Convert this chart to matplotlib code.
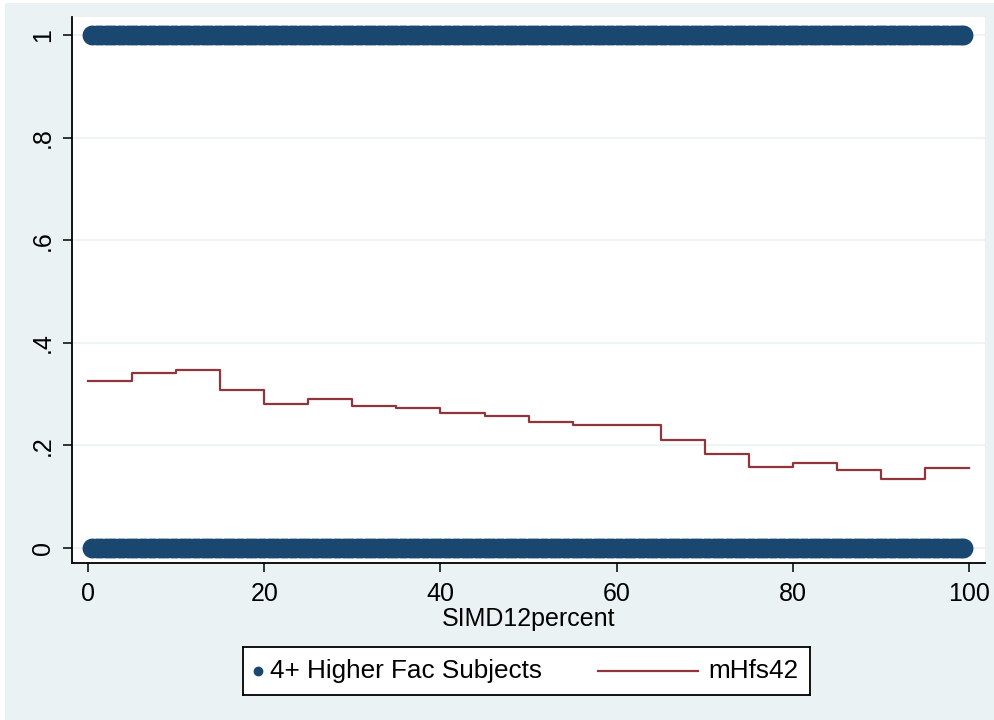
import numpy as np
import matplotlib.pyplot as plt
from matplotlib.patches import Rectangle

plt.rcParams["font.family"] = ["Liberation Sans", "DejaVu Sans"]

# SIMD percentile positions of the observations (binary outcome)
simd_obs = [
    0.5, 1.0, 1.5, 2.0, 2.5, 3.0, 3.5, 4.0, 4.5, 5.0,
    5.5, 6.0, 6.5, 7.0, 7.5, 8.0, 8.5, 9.0, 9.5, 10.0,
    10.5, 11.0, 11.5, 12.0, 12.5, 13.0, 13.5, 14.0, 14.5, 15.0,
    15.5, 16.0, 16.5, 17.0, 17.5, 18.0, 18.5, 19.0, 19.5, 20.0,
    20.5, 21.0, 21.5, 22.0, 22.5, 23.0, 23.5, 24.0, 24.5, 25.0,
    25.5, 26.0, 26.5, 27.0, 27.5, 28.0, 28.5, 29.0, 29.5, 30.0,
    30.5, 31.0, 31.5, 32.0, 32.5, 33.0, 33.5, 34.0, 34.5, 35.0,
    35.5, 36.0, 36.5, 37.0, 37.5, 38.0, 38.5, 39.0, 39.5, 40.0,
    40.5, 41.0, 41.5, 42.0, 42.5, 43.0, 43.5, 44.0, 44.5, 45.0,
    45.5, 46.0, 46.5, 47.0, 47.5, 48.0, 48.5, 49.0, 49.5, 50.0,
    50.5, 51.0, 51.5, 52.0, 52.5, 53.0, 53.5, 54.0, 54.5, 55.0,
    55.5, 56.0, 56.5, 57.0, 57.5, 58.0, 58.5, 59.0, 59.5, 60.0,
    60.5, 61.0, 61.5, 62.0, 62.5, 63.0, 63.5, 64.0, 64.5, 65.0,
    65.5, 66.0, 66.5, 67.0, 67.5, 68.0, 68.5, 69.0, 69.5, 70.0,
    70.5, 71.0, 71.5, 72.0, 72.5, 73.0, 73.5, 74.0, 74.5, 75.0,
    75.5, 76.0, 76.5, 77.0, 77.5, 78.0, 78.5, 79.0, 79.5, 80.0,
    80.5, 81.0, 81.5, 82.0, 82.5, 83.0, 83.5, 84.0, 84.5, 85.0,
    85.5, 86.0, 86.5, 87.0, 87.5, 88.0, 88.5, 89.0, 89.5, 90.0,
    90.5, 91.0, 91.5, 92.0, 92.5, 93.0, 93.5, 94.0, 94.5, 95.0,
    95.5, 96.0, 96.5, 97.0, 97.5, 98.0, 98.5, 99.0, 99.3,
]
hfs_yes = [1] * len(simd_obs)
hfs_no = [0] * len(simd_obs)

# mean of outcome in 5-point SIMD bands
band_edges = [0, 5, 10, 15, 20, 25, 30, 35, 40, 45, 50,
              55, 60, 65, 70, 75, 80, 85, 90, 95, 100]
band_means = [0.326, 0.341, 0.347, 0.308, 0.280, 0.290, 0.277, 0.273,
              0.263, 0.258, 0.245, 0.240, 0.240, 0.210, 0.183, 0.158,
              0.165, 0.152, 0.135, 0.156]

xticks = [0, 20, 40, 60, 80, 100]
yticks = [0, 0.2, 0.4, 0.6, 0.8, 1.0]
ytick_labels = ["0", ".2", ".4", ".6", ".8", "1"]

navy = "#1A476F"
maroon = "#90353B"
bg = "#EAF2F3"

W, H = 995, 720
fig = plt.figure(figsize=(W / 100, H / 100), dpi=100, facecolor="white")
fig.add_artist(Rectangle((5 / W, 0), 1, 1 - 3 / H, transform=fig.transFigure,
                         facecolor=bg, edgecolor="none", zorder=-10))

ax = fig.add_axes([72 / W, 1 - 563 / H, (985 - 72) / W, (563 - 17) / H])
ax.set_facecolor("white")

ax.scatter(simd_obs, hfs_yes, s=205, color=navy, linewidths=0, zorder=3)
ax.scatter(simd_obs, hfs_no, s=205, color=navy, linewidths=0, zorder=3)
ax.plot(band_edges, band_means + band_means[-1:], drawstyle="steps-post",
        color=maroon, lw=1.6, zorder=4)

ax.set_xlim(-1.82, 101.8)
ax.set_ylim(-0.029, 1.035)
ax.set_xticks(xticks)
ax.set_yticks(yticks)
ax.set_yticklabels(ytick_labels, rotation=90, va="center")
ax.tick_params(axis="both", labelsize=18, length=6.5, width=1.1, color="black")
ax.tick_params(axis="y", pad=6)
ax.tick_params(axis="x", pad=7)
ax.grid(axis="y", color=bg, lw=1.2, zorder=0)
ax.set_axisbelow(True)
for side in ["top", "right"]:
    ax.spines[side].set_visible(False)
for side in ["left", "bottom"]:
    ax.spines[side].set_linewidth(1.3)
ax.set_xlabel("SIMD12percent", fontsize=18, labelpad=1)

# legend box drawn in its own axes
lw_, lh_ = 810 - 243, 695 - 647
lax = fig.add_axes([243 / W, 1 - 695 / H, lw_ / W, lh_ / H])
lax.set_xlim(0, lw_)
lax.set_ylim(0, lh_)
lax.set_xticks([])
lax.set_yticks([])
for sp in lax.spines.values():
    sp.set_linewidth(1.3)
lax.plot([15], [lh_ / 2], "o", color=navy, ms=6)
lax.text(27, lh_ / 2, "4+ Higher Fac Subjects", fontsize=18.8, va="center")
lax.plot([355, 455], [lh_ / 2, lh_ / 2], color=maroon, lw=1.6)
lax.text(465, lh_ / 2, "mHfs42", fontsize=18.8, va="center")

fig.savefig("out.png", dpi=100, facecolor=fig.get_facecolor())
